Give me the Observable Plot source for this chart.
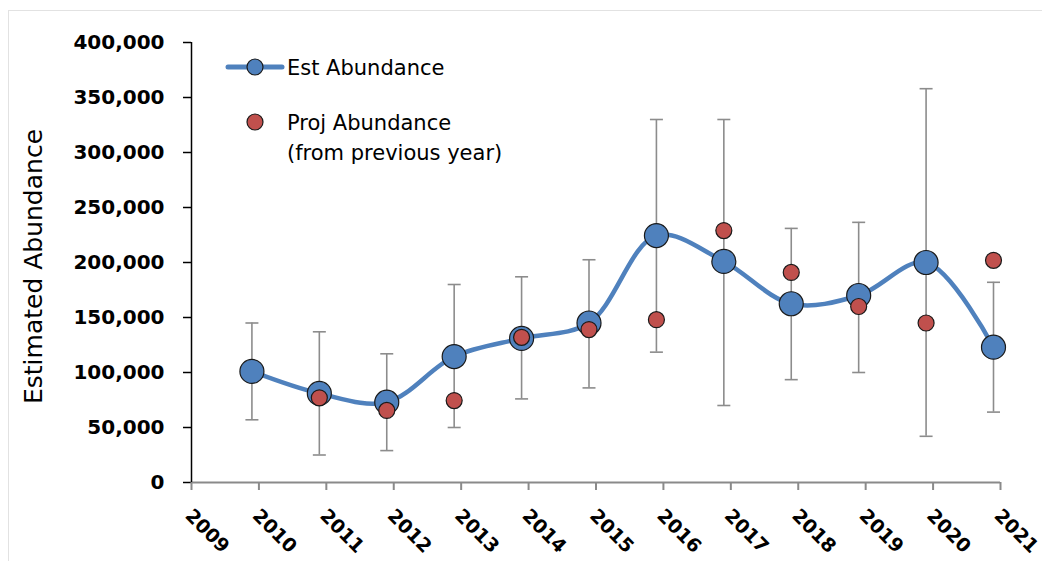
<!DOCTYPE html>
<html>
<head>
<meta charset="utf-8">
<script src="https://cdn.jsdelivr.net/npm/d3@7"></script>
<script src="https://cdn.jsdelivr.net/npm/@observablehq/plot@0.6"></script>
<style>
  body { margin: 0; background: #fff; }
  #wrap { position: relative; width: 1042px; height: 561px; overflow: hidden; background: #fff; }
  #frame { position: absolute; left: 8px; top: 10px; width: 1100px; height: 600px;
           border-top: 1px solid #e2e2e2; border-left: 1px solid #e2e2e2; }
  #chart { position: absolute; left: 0; top: 0; }
  #legend { position: absolute; left: 0; top: 0; pointer-events: none; }
  #legend text { font-family: "DejaVu Sans"; font-size: 21px; fill: #000; }
</style>
</head>
<body>
<div id="wrap">
  <div id="frame"></div>
  <div id="chart"></div>
  <svg id="legend" width="1042" height="561">
    <line x1="228" x2="282" y1="67" y2="67" stroke="#4F81BD" stroke-width="5" stroke-linecap="round"></line>
    <circle cx="255" cy="67" r="8" fill="#4F81BD" stroke="#1a1a1a" stroke-width="1.2"></circle>
    <text x="287" y="75">Est Abundance</text>
    <circle cx="255" cy="122" r="8" fill="#C0504D" stroke="#1a1a1a" stroke-width="1.2"></circle>
    <text x="287" y="130">Proj Abundance</text>
    <text x="287" y="160">(from previous year)</text>
  </svg>
</div>
<script>
// ---- data ----
const years = [2010, 2011, 2012, 2013, 2014, 2015, 2016, 2017, 2018, 2019, 2020, 2021];
const estAbundance = [101000, 81000, 73000, 114500, 131000, 145000, 224500, 201000, 162500, 170000, 200000, 123000];
const projAbundance = [null, 77000, 65500, 74500, 132000, 139000, 148000, 229000, 191000, 160000, 145000, 202000];
const lowerCI = [57000, 25000, 29000, 50000, 76000, 86000, 118500, 70000, 93500, 100000, 42000, 64000];
const upperCI = [145000, 137000, 117000, 180000, 187000, 202500, 330000, 330000, 231000, 236500, 358000, 182000];
const xTicks = [2009, 2010, 2011, 2012, 2013, 2014, 2015, 2016, 2017, 2018, 2019, 2020, 2021];
const yTicks = [0, 50000, 100000, 150000, 200000, 250000, 300000, 350000, 400000];
const yLabel = "Estimated Abundance";

const rows = years.map((year, i) => ({
  year, est: estAbundance[i], proj: projAbundance[i], lo: lowerCI[i], hi: upperCI[i]
}));

const blue = "#4F81BD";
const red = "#C0504D";
const barGray = "#8c8c8c";
const shift = -7; // Excel date axis places points just before each year tick

// horizontal cap symbol for the error bars
const capSymbol = {
  draw(context, size) {
    const w = Math.sqrt(size / Math.PI);
    context.moveTo(-w, 0);
    context.lineTo(w, 0);
  }
};

const chart = Plot.plot({
  width: 1042,
  height: 561,
  marginLeft: 191,
  marginRight: 42,
  marginTop: 42,
  marginBottom: 79,
  x: { domain: [2009, 2021] },
  y: { domain: [0, 400000] },
  style: { fontFamily: "DejaVu Sans", background: "transparent", color: "black", overflow: "visible" },
  marks: [
    Plot.axisY({ ticks: yTicks, tickFormat: d3.format(","), fontSize: 20, fontWeight: "bold",
                 tickSize: 8, tickPadding: 19, strokeWidth: 1.5, label: null }),
    // x tick marks
    Plot.axisX({ ticks: xTicks, tickFormat: () => "", tickSize: 8, stroke: "#8a8a8a",
                 strokeWidth: 2, label: null }),
    // x tick labels (rotated)
    Plot.axisX({ ticks: xTicks, tickFormat: d => String(d), tickRotate: 45, fontSize: 19,
                 fontWeight: "bold", tickSize: 0, tickPadding: 30, dx: -3, fill: "black", label: null }),
    Plot.ruleY([0], { stroke: "#8a8a8a", strokeWidth: 2 }),
    Plot.ruleX([2009], { stroke: "black", strokeWidth: 1.5 }),
    Plot.text([yLabel], { frameAnchor: "left", textAnchor: "middle", text: d => d, rotate: -90,
                          dx: -158, dy: 4, fontSize: 25, fill: "black" }),
    // error bars
    Plot.ruleX(rows, { x: "year", y1: "lo", y2: "hi", stroke: barGray, strokeWidth: 1.6, dx: shift }),
    Plot.dot(rows, { x: "year", y: "hi", symbol: capSymbol, r: 6.5, fill: "none", stroke: barGray, strokeWidth: 1.6, dx: shift }),
    Plot.dot(rows, { x: "year", y: "lo", symbol: capSymbol, r: 6.5, fill: "none", stroke: barGray, strokeWidth: 1.6, dx: shift }),
    // estimated abundance line + dots
    Plot.line(rows, { x: "year", y: "est", curve: "catmull-rom", stroke: blue, strokeWidth: 4.5, dx: shift }),
    Plot.dot(rows, { x: "year", y: "est", r: 12, fill: blue, stroke: "#1a1a1a", strokeWidth: 1.2, dx: shift }),
    // projected abundance
    Plot.dot(rows, { x: "year", y: "proj", r: 8, fill: red, stroke: "#1a1a1a", strokeWidth: 1.2, dx: shift })
  ]
});
document.getElementById("chart").appendChild(chart);
</script>
</body>
</html>
